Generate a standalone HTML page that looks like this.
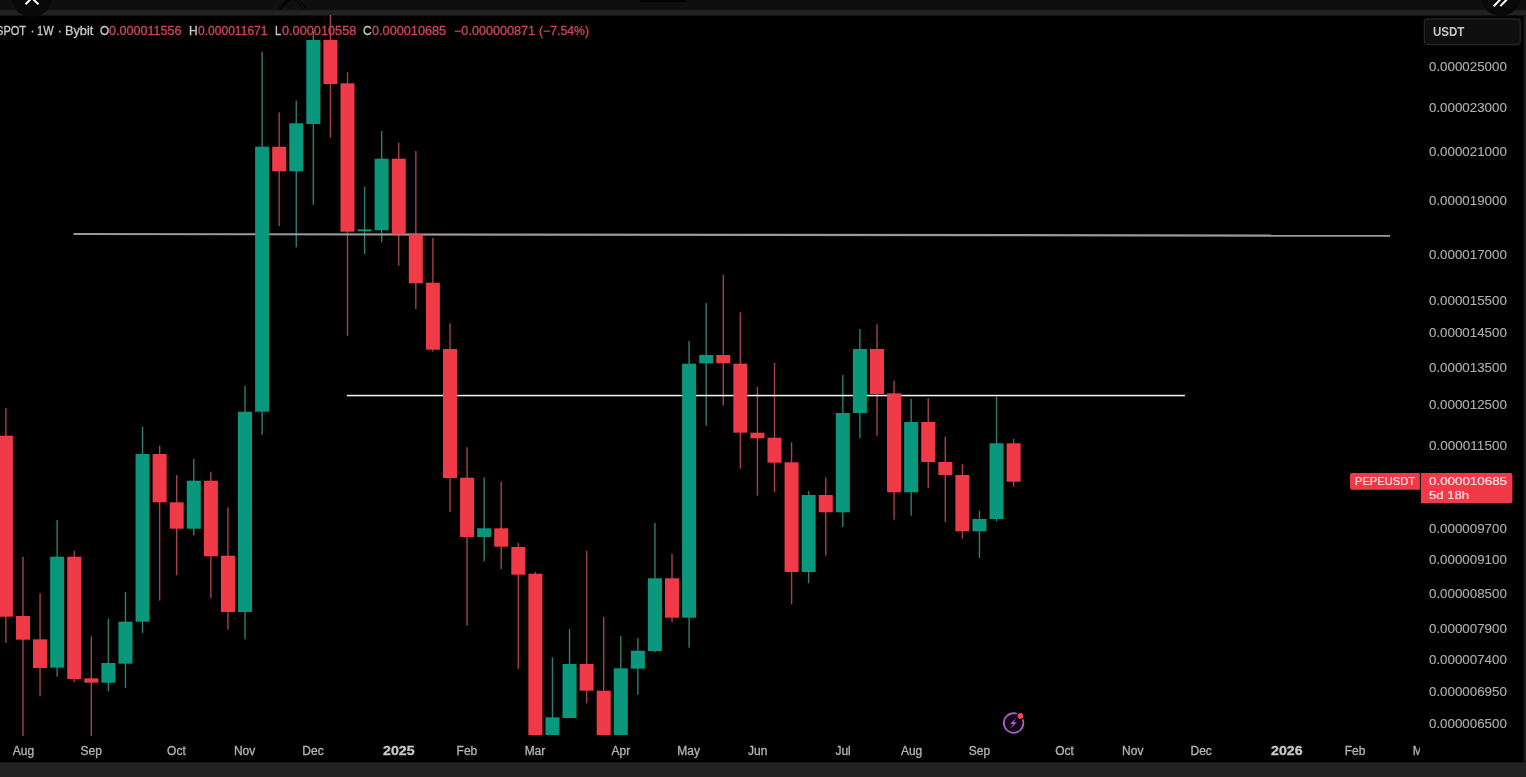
<!DOCTYPE html>
<html><head><meta charset="utf-8"><title>PEPEUSDT chart</title>
<style>
html,body{margin:0;padding:0;background:#000;}
body{width:1526px;height:777px;position:relative;overflow:hidden;font-family:"Liberation Sans",sans-serif;color:#b2b2b2;}
#chart{position:absolute;left:0;top:0;}
.t{position:absolute;white-space:nowrap;line-height:20px;transform-origin:0 0;}
#timeaxis{position:absolute;left:0;top:737px;width:1419.6px;height:25px;overflow:hidden;}
</style></head><body>
<svg id="chart" width="1526" height="777" viewBox="0 0 1526 777">
<defs><clipPath id="cp"><rect x="0" y="15" width="1421" height="721"/></clipPath></defs>
<rect x="0" y="0" width="1526" height="10.1" fill="#0f0f0f"/>
<rect x="0" y="10.1" width="1526" height="5.4" fill="#222"/>
<rect x="0" y="762.3" width="1526" height="15" fill="#222"/>
<rect x="1523.7" y="15.5" width="3" height="747" fill="#1b1b1b"/>
<circle cx="31.8" cy="-3" r="20" fill="#090909"/>
<circle cx="1500.5" cy="-4" r="20" fill="#090909"/>
<rect x="1424.3" y="18.8" width="95.9" height="25.8" rx="3.5" fill="#0f0f0f" stroke="#272727" stroke-width="1.2"/>
<g clip-path="url(#cp)">
<rect x="5.20" y="408.0" width="1.4" height="235.0" fill="#e65a64" opacity="0.72"/>
<rect x="22.28" y="556.7" width="1.4" height="179.3" fill="#e65a64" opacity="0.72"/>
<rect x="39.36" y="593.3" width="1.4" height="103.0" fill="#e65a64" opacity="0.72"/>
<rect x="56.44" y="520.0" width="1.4" height="156.7" fill="#3fae96" opacity="0.72"/>
<rect x="73.52" y="550.7" width="1.4" height="131.3" fill="#e65a64" opacity="0.72"/>
<rect x="90.60" y="636.3" width="1.4" height="99.7" fill="#e65a64" opacity="0.72"/>
<rect x="107.68" y="618.7" width="1.4" height="72.6" fill="#3fae96" opacity="0.72"/>
<rect x="124.76" y="592.0" width="1.4" height="96.0" fill="#3fae96" opacity="0.72"/>
<rect x="141.84" y="426.7" width="1.4" height="206.3" fill="#3fae96" opacity="0.72"/>
<rect x="158.92" y="445.7" width="1.4" height="155.0" fill="#e65a64" opacity="0.72"/>
<rect x="176.00" y="475.0" width="1.4" height="100.3" fill="#e65a64" opacity="0.72"/>
<rect x="193.08" y="459.0" width="1.4" height="76.3" fill="#3fae96" opacity="0.72"/>
<rect x="210.16" y="471.7" width="1.4" height="126.3" fill="#e65a64" opacity="0.72"/>
<rect x="227.24" y="507.3" width="1.4" height="122.4" fill="#e65a64" opacity="0.72"/>
<rect x="244.32" y="385.7" width="1.4" height="253.6" fill="#3fae96" opacity="0.72"/>
<rect x="261.40" y="51.7" width="1.4" height="383.0" fill="#3fae96" opacity="0.72"/>
<rect x="278.48" y="112.3" width="1.4" height="113.7" fill="#e65a64" opacity="0.72"/>
<rect x="295.56" y="100.7" width="1.4" height="146.6" fill="#3fae96" opacity="0.72"/>
<rect x="312.64" y="31.7" width="1.4" height="173.0" fill="#3fae96" opacity="0.72"/>
<rect x="329.72" y="15.0" width="1.4" height="122.7" fill="#e65a64" opacity="0.72"/>
<rect x="346.80" y="72.3" width="1.4" height="263.4" fill="#e65a64" opacity="0.72"/>
<rect x="363.88" y="186.7" width="1.4" height="67.3" fill="#3fae96" opacity="0.72"/>
<rect x="380.96" y="131.0" width="1.4" height="111.3" fill="#3fae96" opacity="0.72"/>
<rect x="398.04" y="142.7" width="1.4" height="123.0" fill="#e65a64" opacity="0.72"/>
<rect x="415.12" y="151.0" width="1.4" height="158.0" fill="#e65a64" opacity="0.72"/>
<rect x="432.20" y="238.0" width="1.4" height="113.7" fill="#e65a64" opacity="0.72"/>
<rect x="449.28" y="323.3" width="1.4" height="188.7" fill="#e65a64" opacity="0.72"/>
<rect x="466.36" y="447.3" width="1.4" height="178.4" fill="#e65a64" opacity="0.72"/>
<rect x="483.44" y="477.3" width="1.4" height="84.0" fill="#3fae96" opacity="0.72"/>
<rect x="500.52" y="481.7" width="1.4" height="87.3" fill="#e65a64" opacity="0.72"/>
<rect x="517.60" y="543.0" width="1.4" height="125.7" fill="#e65a64" opacity="0.72"/>
<rect x="534.68" y="572.0" width="1.4" height="163.0" fill="#e65a64" opacity="0.72"/>
<rect x="551.76" y="657.3" width="1.4" height="77.7" fill="#3fae96" opacity="0.72"/>
<rect x="568.84" y="629.0" width="1.4" height="89.0" fill="#3fae96" opacity="0.72"/>
<rect x="585.92" y="550.7" width="1.4" height="152.6" fill="#e65a64" opacity="0.72"/>
<rect x="603.00" y="617.0" width="1.4" height="118.0" fill="#e65a64" opacity="0.72"/>
<rect x="620.08" y="636.0" width="1.4" height="99.0" fill="#3fae96" opacity="0.72"/>
<rect x="637.16" y="638.0" width="1.4" height="56.7" fill="#3fae96" opacity="0.72"/>
<rect x="654.24" y="523.0" width="1.4" height="129.0" fill="#3fae96" opacity="0.72"/>
<rect x="671.32" y="553.7" width="1.4" height="68.6" fill="#e65a64" opacity="0.72"/>
<rect x="688.40" y="341.0" width="1.4" height="306.7" fill="#3fae96" opacity="0.72"/>
<rect x="705.48" y="303.0" width="1.4" height="122.7" fill="#3fae96" opacity="0.72"/>
<rect x="722.56" y="274.7" width="1.4" height="131.0" fill="#e65a64" opacity="0.72"/>
<rect x="739.64" y="312.3" width="1.4" height="156.4" fill="#e65a64" opacity="0.72"/>
<rect x="756.72" y="387.0" width="1.4" height="108.7" fill="#e65a64" opacity="0.72"/>
<rect x="773.80" y="362.7" width="1.4" height="129.6" fill="#e65a64" opacity="0.72"/>
<rect x="790.88" y="442.3" width="1.4" height="162.0" fill="#e65a64" opacity="0.72"/>
<rect x="807.96" y="491.0" width="1.4" height="92.3" fill="#3fae96" opacity="0.72"/>
<rect x="825.04" y="477.3" width="1.4" height="78.4" fill="#e65a64" opacity="0.72"/>
<rect x="842.12" y="375.0" width="1.4" height="152.0" fill="#3fae96" opacity="0.72"/>
<rect x="859.20" y="329.0" width="1.4" height="109.3" fill="#3fae96" opacity="0.72"/>
<rect x="876.28" y="324.3" width="1.4" height="111.4" fill="#e65a64" opacity="0.72"/>
<rect x="893.36" y="380.7" width="1.4" height="139.0" fill="#e65a64" opacity="0.72"/>
<rect x="910.44" y="399.0" width="1.4" height="116.7" fill="#3fae96" opacity="0.72"/>
<rect x="927.52" y="398.3" width="1.4" height="90.0" fill="#e65a64" opacity="0.72"/>
<rect x="944.60" y="436.7" width="1.4" height="85.3" fill="#e65a64" opacity="0.72"/>
<rect x="961.68" y="464.3" width="1.4" height="74.4" fill="#e65a64" opacity="0.72"/>
<rect x="978.76" y="510.7" width="1.4" height="47.3" fill="#3fae96" opacity="0.72"/>
<rect x="995.84" y="396.7" width="1.4" height="124.6" fill="#3fae96" opacity="0.72"/>
<rect x="1012.92" y="439.0" width="1.4" height="47.7" fill="#e65a64" opacity="0.72"/>
<line x1="73.6" y1="234" x2="1390" y2="235.7" stroke="#9a9a9a" stroke-width="2.2"/>
<rect x="346.8" y="394.8" width="838.1" height="1.5" fill="#f4f4f4"/>
<rect x="-1.10" y="435.7" width="14.0" height="181.0" fill="#f03a48"/>
<rect x="15.98" y="616.0" width="14.0" height="23.7" fill="#f03a48"/>
<rect x="33.06" y="639.3" width="14.0" height="28.7" fill="#f03a48"/>
<rect x="50.14" y="556.7" width="14.0" height="111.0" fill="#0a987d"/>
<rect x="67.22" y="556.7" width="14.0" height="122.3" fill="#f03a48"/>
<rect x="84.30" y="678.3" width="14.0" height="4.4" fill="#f03a48"/>
<rect x="101.38" y="663.0" width="14.0" height="19.7" fill="#0a987d"/>
<rect x="118.46" y="621.7" width="14.0" height="42.0" fill="#0a987d"/>
<rect x="135.54" y="454.0" width="14.0" height="167.7" fill="#0a987d"/>
<rect x="152.62" y="454.0" width="14.0" height="48.3" fill="#f03a48"/>
<rect x="169.70" y="502.3" width="14.0" height="26.4" fill="#f03a48"/>
<rect x="186.78" y="480.7" width="14.0" height="48.0" fill="#0a987d"/>
<rect x="203.86" y="480.7" width="14.0" height="75.6" fill="#f03a48"/>
<rect x="220.94" y="555.7" width="14.0" height="56.3" fill="#f03a48"/>
<rect x="238.02" y="411.7" width="14.0" height="200.3" fill="#0a987d"/>
<rect x="255.10" y="146.7" width="14.0" height="265.0" fill="#0a987d"/>
<rect x="272.18" y="146.7" width="14.0" height="24.6" fill="#f03a48"/>
<rect x="289.26" y="123.3" width="14.0" height="48.0" fill="#0a987d"/>
<rect x="306.34" y="40.0" width="14.0" height="84.0" fill="#0a987d"/>
<rect x="323.42" y="40.0" width="14.0" height="44.0" fill="#f03a48"/>
<rect x="340.50" y="83.3" width="14.0" height="148.4" fill="#f03a48"/>
<rect x="357.58" y="229.3" width="14.0" height="2.0" fill="#0a987d"/>
<rect x="374.66" y="158.7" width="14.0" height="71.6" fill="#0a987d"/>
<rect x="391.74" y="158.7" width="14.0" height="75.6" fill="#f03a48"/>
<rect x="408.82" y="234.3" width="14.0" height="49.0" fill="#f03a48"/>
<rect x="425.90" y="282.7" width="14.0" height="67.0" fill="#f03a48"/>
<rect x="442.98" y="349.0" width="14.0" height="129.0" fill="#f03a48"/>
<rect x="460.06" y="477.7" width="14.0" height="59.3" fill="#f03a48"/>
<rect x="477.14" y="528.3" width="14.0" height="8.7" fill="#0a987d"/>
<rect x="494.22" y="528.3" width="14.0" height="18.4" fill="#f03a48"/>
<rect x="511.30" y="547.0" width="14.0" height="27.7" fill="#f03a48"/>
<rect x="528.38" y="573.7" width="14.0" height="161.3" fill="#f03a48"/>
<rect x="545.46" y="717.3" width="14.0" height="17.7" fill="#0a987d"/>
<rect x="562.54" y="664.0" width="14.0" height="54.0" fill="#0a987d"/>
<rect x="579.62" y="664.0" width="14.0" height="26.7" fill="#f03a48"/>
<rect x="596.70" y="690.7" width="14.0" height="44.3" fill="#f03a48"/>
<rect x="613.78" y="668.3" width="14.0" height="66.7" fill="#0a987d"/>
<rect x="630.86" y="650.7" width="14.0" height="18.0" fill="#0a987d"/>
<rect x="647.94" y="578.3" width="14.0" height="72.7" fill="#0a987d"/>
<rect x="665.02" y="578.3" width="14.0" height="39.4" fill="#f03a48"/>
<rect x="682.10" y="363.7" width="14.0" height="254.0" fill="#0a987d"/>
<rect x="699.18" y="355.0" width="14.0" height="8.3" fill="#0a987d"/>
<rect x="716.26" y="355.0" width="14.0" height="8.3" fill="#f03a48"/>
<rect x="733.34" y="363.7" width="14.0" height="69.0" fill="#f03a48"/>
<rect x="750.42" y="432.7" width="14.0" height="5.6" fill="#f03a48"/>
<rect x="767.50" y="437.7" width="14.0" height="25.0" fill="#f03a48"/>
<rect x="784.58" y="462.3" width="14.0" height="109.7" fill="#f03a48"/>
<rect x="801.66" y="495.0" width="14.0" height="77.0" fill="#0a987d"/>
<rect x="818.74" y="495.0" width="14.0" height="17.3" fill="#f03a48"/>
<rect x="835.82" y="413.0" width="14.0" height="99.3" fill="#0a987d"/>
<rect x="852.90" y="349.0" width="14.0" height="64.0" fill="#0a987d"/>
<rect x="869.98" y="349.0" width="14.0" height="45.0" fill="#f03a48"/>
<rect x="887.06" y="393.3" width="14.0" height="99.0" fill="#f03a48"/>
<rect x="904.14" y="422.0" width="14.0" height="70.3" fill="#0a987d"/>
<rect x="921.22" y="422.0" width="14.0" height="40.0" fill="#f03a48"/>
<rect x="938.30" y="462.0" width="14.0" height="13.0" fill="#f03a48"/>
<rect x="955.38" y="475.0" width="14.0" height="56.3" fill="#f03a48"/>
<rect x="972.46" y="519.0" width="14.0" height="12.3" fill="#0a987d"/>
<rect x="989.54" y="443.3" width="14.0" height="75.7" fill="#0a987d"/>
<rect x="1006.62" y="443.3" width="14.0" height="38.4" fill="#f03a48"/>
</g>
<g stroke="#000" fill="none" opacity="0.75"><path d="M289.3 -1 L279.5 9" stroke-width="3"/><path d="M294.6 -1 L303.4 9 M297.8 -1 L306.6 9" stroke-width="1"/><rect x="640" y="-1" width="46" height="3" fill="#000" stroke="none"/></g>
<g stroke="#fff" stroke-width="2" fill="none" stroke-linecap="butt">
<path d="M25.5 4.3 L31.8 -2 L38.5 4.3"/>
<path d="M1493.7 6.3 L1500.2 -0.5 M1500.3 6.1 L1506.8 -0.5"/>
</g>
<path d="M1352 472.9 H1419.9 V489.7 H1352 a2 2 0 0 1 -2 -2 V474.9 a2 2 0 0 1 2 -2 Z" fill="#f03a48"/>
<path d="M1420.9 472.9 H1510.4 a2 2 0 0 1 2 2 V501.3 a2 2 0 0 1 -2 2 H1420.9 Z" fill="#f03a48"/>
<g>
<circle cx="1013.6" cy="723" r="9.7" fill="none" stroke="#a462c2" stroke-width="1.9"/>
<circle cx="1013.6" cy="723" r="8.8" fill="#12071a"/><path d="M1015.8 718.2 L1010.2 724 L1013.2 724 L1010.8 728.2 L1016.8 722.2 L1013.9 722.2 Z" fill="#b455d6"/>
<circle cx="1020.4" cy="715.9" r="4.2" fill="#000"/>
<circle cx="1020.4" cy="715.9" r="2.9" fill="#ee4a55"/>
</g>
</svg>
<div class="t" style="left:-4.46px;top:20.62px;font-size:12px;font-weight:400;color:#c9c9c9;-webkit-text-stroke:0.3px #c9c9c9;transform:scaleX(0.9219)">SPOT</div>
<div class="t" style="left:30.60px;top:20.62px;font-size:12px;font-weight:400;color:#c9c9c9;-webkit-text-stroke:0.3px #c9c9c9;transform:scaleX(1.0000)">·</div>
<div class="t" style="left:37.41px;top:20.62px;font-size:12px;font-weight:400;color:#c9c9c9;-webkit-text-stroke:0.3px #c9c9c9;transform:scaleX(0.9200)">1W</div>
<div class="t" style="left:57.70px;top:20.62px;font-size:12px;font-weight:400;color:#c9c9c9;-webkit-text-stroke:0.3px #c9c9c9;transform:scaleX(1.0000)">·</div>
<div class="t" style="left:64.80px;top:20.62px;font-size:12px;font-weight:400;color:#c9c9c9;-webkit-text-stroke:0.3px #c9c9c9;transform:scaleX(1.0615)">Bybit</div>
<div class="t" style="left:99.91px;top:20.62px;font-size:12px;font-weight:400;color:#c9c9c9;-webkit-text-stroke:0.3px #c9c9c9;transform:scaleX(0.9765)">O</div>
<div class="t" style="left:109.44px;top:20.62px;font-size:12px;font-weight:400;color:#d24553;-webkit-text-stroke:0.3px #d24553;transform:scaleX(1.0496)">0.000011556</div>
<div class="t" style="left:189.06px;top:20.62px;font-size:12px;font-weight:400;color:#c9c9c9;-webkit-text-stroke:0.3px #c9c9c9;transform:scaleX(0.9931)">H</div>
<div class="t" style="left:198.05px;top:20.62px;font-size:12px;font-weight:400;color:#d24553;-webkit-text-stroke:0.3px #d24553;transform:scaleX(1.0044)">0.000011671</div>
<div class="t" style="left:275.31px;top:20.62px;font-size:12px;font-weight:400;color:#c9c9c9;-webkit-text-stroke:0.3px #c9c9c9;transform:scaleX(0.9217)">L</div>
<div class="t" style="left:282.23px;top:20.62px;font-size:12px;font-weight:400;color:#d24553;-webkit-text-stroke:0.3px #d24553;transform:scaleX(1.0604)">0.000010558</div>
<div class="t" style="left:362.90px;top:20.62px;font-size:12px;font-weight:400;color:#c9c9c9;-webkit-text-stroke:0.3px #c9c9c9;transform:scaleX(1.0000)">C</div>
<div class="t" style="left:372.34px;top:20.62px;font-size:12px;font-weight:400;color:#d24553;-webkit-text-stroke:0.3px #d24553;transform:scaleX(1.0576)">0.000010685</div>
<div class="t" style="left:453.97px;top:20.62px;font-size:12px;font-weight:400;color:#d24553;-webkit-text-stroke:0.3px #d24553;transform:scaleX(1.0518)">−0.000000871</div>
<div class="t" style="left:539.49px;top:20.62px;font-size:12px;font-weight:400;color:#d24553;-webkit-text-stroke:0.3px #d24553;transform:scaleX(1.0208)">(−7.54%)</div>
<div class="t" style="left:1429.03px;top:57.05px;font-size:12.4px;font-weight:400;color:#adadad;-webkit-text-stroke:0.12px #adadad;transform:scaleX(1.0760)">0.000025000</div>
<div class="t" style="left:1429.03px;top:97.55px;font-size:12.4px;font-weight:400;color:#adadad;-webkit-text-stroke:0.12px #adadad;transform:scaleX(1.0760)">0.000023000</div>
<div class="t" style="left:1429.03px;top:141.95px;font-size:12.4px;font-weight:400;color:#adadad;-webkit-text-stroke:0.12px #adadad;transform:scaleX(1.0760)">0.000021000</div>
<div class="t" style="left:1429.03px;top:191.15px;font-size:12.4px;font-weight:400;color:#adadad;-webkit-text-stroke:0.12px #adadad;transform:scaleX(1.0760)">0.000019000</div>
<div class="t" style="left:1429.03px;top:245.15px;font-size:12.4px;font-weight:400;color:#adadad;-webkit-text-stroke:0.12px #adadad;transform:scaleX(1.0760)">0.000017000</div>
<div class="t" style="left:1429.03px;top:290.55px;font-size:12.4px;font-weight:400;color:#adadad;-webkit-text-stroke:0.12px #adadad;transform:scaleX(1.0760)">0.000015500</div>
<div class="t" style="left:1429.03px;top:322.65px;font-size:12.4px;font-weight:400;color:#adadad;-webkit-text-stroke:0.12px #adadad;transform:scaleX(1.0760)">0.000014500</div>
<div class="t" style="left:1429.03px;top:358.15px;font-size:12.4px;font-weight:400;color:#adadad;-webkit-text-stroke:0.12px #adadad;transform:scaleX(1.0760)">0.000013500</div>
<div class="t" style="left:1429.03px;top:394.55px;font-size:12.4px;font-weight:400;color:#adadad;-webkit-text-stroke:0.12px #adadad;transform:scaleX(1.0760)">0.000012500</div>
<div class="t" style="left:1429.03px;top:436.05px;font-size:12.4px;font-weight:400;color:#adadad;-webkit-text-stroke:0.12px #adadad;transform:scaleX(1.0912)">0.000011500</div>
<div class="t" style="left:1429.03px;top:518.65px;font-size:12.4px;font-weight:400;color:#adadad;-webkit-text-stroke:0.12px #adadad;transform:scaleX(1.0760)">0.000009700</div>
<div class="t" style="left:1429.03px;top:550.25px;font-size:12.4px;font-weight:400;color:#adadad;-webkit-text-stroke:0.12px #adadad;transform:scaleX(1.0760)">0.000009100</div>
<div class="t" style="left:1429.03px;top:583.55px;font-size:12.4px;font-weight:400;color:#adadad;-webkit-text-stroke:0.12px #adadad;transform:scaleX(1.0760)">0.000008500</div>
<div class="t" style="left:1429.03px;top:618.85px;font-size:12.4px;font-weight:400;color:#adadad;-webkit-text-stroke:0.12px #adadad;transform:scaleX(1.0760)">0.000007900</div>
<div class="t" style="left:1429.03px;top:650.05px;font-size:12.4px;font-weight:400;color:#adadad;-webkit-text-stroke:0.12px #adadad;transform:scaleX(1.0760)">0.000007400</div>
<div class="t" style="left:1429.03px;top:681.65px;font-size:12.4px;font-weight:400;color:#adadad;-webkit-text-stroke:0.12px #adadad;transform:scaleX(1.0760)">0.000006950</div>
<div class="t" style="left:1429.03px;top:714.05px;font-size:12.4px;font-weight:400;color:#adadad;-webkit-text-stroke:0.12px #adadad;transform:scaleX(1.0760)">0.000006500</div>
<div class="t" style="left:1433.31px;top:21.62px;font-size:12.5px;font-weight:700;color:#c6c6c6;-webkit-text-stroke:0px #c6c6c6;transform:scaleX(0.9203)">USDT</div>
<div class="t" style="left:1354.64px;top:471.05px;font-size:11px;font-weight:400;color:#ffe0e4;-webkit-text-stroke:0.2px #ffe0e4;transform:scaleX(1.0137)">PEPEUSDT</div>
<div class="t" style="left:1428.70px;top:471.05px;font-size:11px;font-weight:400;color:#ffe0e4;-webkit-text-stroke:0.2px #ffe0e4;transform:scaleX(1.2141)">0.000010685</div>
<div class="t" style="left:1428.70px;top:484.75px;font-size:11px;font-weight:400;color:#ffe0e4;-webkit-text-stroke:0.2px #ffe0e4;transform:scaleX(1.1939)">5d 18h</div>
<div id="timeaxis">
<div class="t" style="left:12.73px;top:3.83px;font-size:12px;font-weight:400;color:#b4b4b4;-webkit-text-stroke:0.3px #b4b4b4;transform:scaleX(1.0000)">Aug</div>
<div class="t" style="left:80.55px;top:3.83px;font-size:12px;font-weight:400;color:#b4b4b4;-webkit-text-stroke:0.3px #b4b4b4;transform:scaleX(1.0000)">Sep</div>
<div class="t" style="left:167.07px;top:3.83px;font-size:12px;font-weight:400;color:#b4b4b4;-webkit-text-stroke:0.3px #b4b4b4;transform:scaleX(1.0000)">Oct</div>
<div class="t" style="left:233.89px;top:3.83px;font-size:12px;font-weight:400;color:#b4b4b4;-webkit-text-stroke:0.3px #b4b4b4;transform:scaleX(1.0000)">Nov</div>
<div class="t" style="left:302.34px;top:3.83px;font-size:12px;font-weight:400;color:#b4b4b4;-webkit-text-stroke:0.3px #b4b4b4;transform:scaleX(1.0000)">Dec</div>
<div class="t" style="left:382.94px;top:3.83px;font-size:12px;font-weight:700;color:#c8c8c8;-webkit-text-stroke:0.3px #c8c8c8;transform:scaleX(1.1810)">2025</div>
<div class="t" style="left:456.56px;top:3.83px;font-size:12px;font-weight:400;color:#b4b4b4;-webkit-text-stroke:0.3px #b4b4b4;transform:scaleX(1.0000)">Feb</div>
<div class="t" style="left:524.63px;top:3.83px;font-size:12px;font-weight:400;color:#b4b4b4;-webkit-text-stroke:0.3px #b4b4b4;transform:scaleX(1.0000)">Mar</div>
<div class="t" style="left:611.53px;top:3.83px;font-size:12px;font-weight:400;color:#b4b4b4;-webkit-text-stroke:0.3px #b4b4b4;transform:scaleX(1.0000)">Apr</div>
<div class="t" style="left:677.22px;top:3.83px;font-size:12px;font-weight:400;color:#b4b4b4;-webkit-text-stroke:0.3px #b4b4b4;transform:scaleX(1.0000)">May</div>
<div class="t" style="left:748.04px;top:3.83px;font-size:12px;font-weight:400;color:#b4b4b4;-webkit-text-stroke:0.3px #b4b4b4;transform:scaleX(1.0000)">Jun</div>
<div class="t" style="left:835.44px;top:3.83px;font-size:12px;font-weight:400;color:#b4b4b4;-webkit-text-stroke:0.3px #b4b4b4;transform:scaleX(1.0000)">Jul</div>
<div class="t" style="left:900.89px;top:3.83px;font-size:12px;font-weight:400;color:#b4b4b4;-webkit-text-stroke:0.3px #b4b4b4;transform:scaleX(1.0000)">Aug</div>
<div class="t" style="left:968.71px;top:3.83px;font-size:12px;font-weight:400;color:#b4b4b4;-webkit-text-stroke:0.3px #b4b4b4;transform:scaleX(1.0000)">Sep</div>
<div class="t" style="left:1055.23px;top:3.83px;font-size:12px;font-weight:400;color:#b4b4b4;-webkit-text-stroke:0.3px #b4b4b4;transform:scaleX(1.0000)">Oct</div>
<div class="t" style="left:1122.06px;top:3.83px;font-size:12px;font-weight:400;color:#b4b4b4;-webkit-text-stroke:0.3px #b4b4b4;transform:scaleX(1.0000)">Nov</div>
<div class="t" style="left:1190.50px;top:3.83px;font-size:12px;font-weight:400;color:#b4b4b4;-webkit-text-stroke:0.3px #b4b4b4;transform:scaleX(1.0000)">Dec</div>
<div class="t" style="left:1271.10px;top:3.83px;font-size:12px;font-weight:700;color:#c8c8c8;-webkit-text-stroke:0.3px #c8c8c8;transform:scaleX(1.1810)">2026</div>
<div class="t" style="left:1344.72px;top:3.83px;font-size:12px;font-weight:400;color:#b4b4b4;-webkit-text-stroke:0.3px #b4b4b4;transform:scaleX(1.0000)">Feb</div>
<div class="t" style="left:1412.79px;top:3.83px;font-size:12px;font-weight:400;color:#b4b4b4;-webkit-text-stroke:0.3px #b4b4b4;transform:scaleX(1.0000)">Mar</div>
</div>
</body></html>
